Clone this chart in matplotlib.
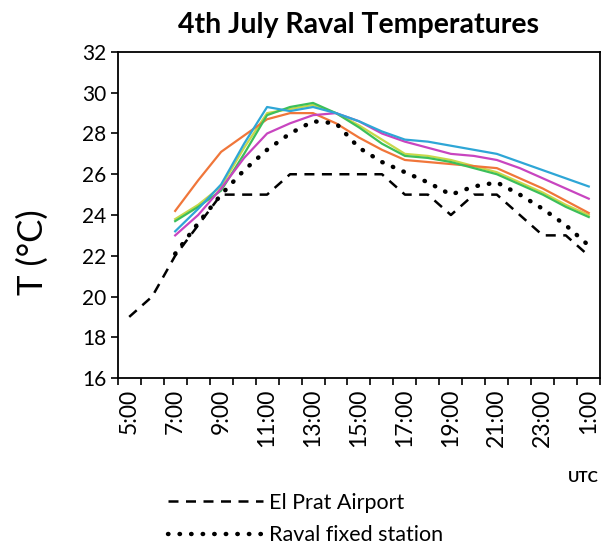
import numpy as np
import matplotlib
matplotlib.use("Agg")
import matplotlib.pyplot as plt
from matplotlib.lines import Line2D

plt.rcParams['font.family'] = ['Lato', 'DejaVu Sans']

# hourly categories, 5:00 on 4 July to 1:00 next day (UTC)
hours = ["5:00", "6:00", "7:00", "8:00", "9:00", "10:00", "11:00", "12:00", "13:00",
         "14:00", "15:00", "16:00", "17:00", "18:00", "19:00", "20:00", "21:00",
         "22:00", "23:00", "0:00", "1:00"]

el_prat = [19, 20, 22, 23.5, 25, 25, 25, 26, 26, 26, 26, 26, 25, 25, 24, 25, 25, 24, 23, 23, 22]
raval_fixed = [None, None, 22.1, 23.6, 25.0, 26.2, 27.2, 28.0, 28.6, 28.5, 27.3, 26.6,
               26.1, 25.6, 25.0, 25.4, 25.6, 25.0, 24.3, 23.5, 22.5]

# mobile transects
orange = [None, None, 24.2, 25.7, 27.1, 27.9, 28.7, 29.0, 29.0, 28.5, 27.8, 27.2,
          26.7, 26.6, 26.5, 26.4, 26.3, 25.8, 25.3, 24.7, 24.1]
lime = [None, None, 23.8, 24.5, 25.4, 27.3, 29.0, 29.2, 29.4, 29.0, 28.4, 27.7,
        27.0, 26.9, 26.7, 26.4, 26.1, 25.6, 25.1, 24.5, 24.0]
green = [None, None, 23.7, 24.4, 25.2, 27.0, 28.9, 29.3, 29.5, 29.0, 28.3, 27.5,
         26.9, 26.8, 26.6, 26.3, 26.0, 25.5, 25.0, 24.4, 23.9]
cyan = [None, None, 23.2, 24.3, 25.5, 27.5, 29.3, 29.1, 29.3, 29.0, 28.6, 28.1,
        27.7, 27.6, 27.4, 27.2, 27.0, 26.6, 26.2, 25.8, 25.4]
magenta = [None, None, 23.0, 24.0, 25.3, 26.8, 28.0, 28.5, 28.9, 29.0, 28.6, 28.0,
           27.6, 27.3, 27.0, 26.9, 26.7, 26.3, 25.8, 25.3, 24.8]

def arr(v):
    return np.array([np.nan if a is None else a for a in v], dtype=float)

x = np.arange(len(hours))

fig = plt.figure(figsize=(6.1, 5.45), dpi=100)
ax = fig.add_axes([0.193, 0.3064, 0.791, 0.5982])

ax.plot(x, arr(lime), color="#c8d84a", lw=1.6)
ax.plot(x, arr(orange), color="#f0763a", lw=1.6)
ax.plot(x, arr(green), color="#3cbf5a", lw=1.6)
ax.plot(x, arr(magenta), color="#c845c0", lw=1.6)
ax.plot(x, arr(cyan), color="#2ea6d6", lw=1.6)
ax.plot(x, arr(el_prat), color="black", lw=1.8, linestyle=(0, (4, 3)))
ax.plot(x, arr(raval_fixed), color="black", lw=3.2, linestyle=(0, (0.1, 2.5)),
        dash_capstyle="round")

ax.set_ylim(16, 32)
ax.set_yticks(np.arange(16, 33, 2))
ax.set_xlim(-0.5, len(hours) - 0.5)
ax.set_xticks(x[::2])
ax.set_xticklabels(hours[::2], rotation=90, fontsize=16.5)
ax.set_xticks(np.arange(-0.5, len(hours), 1), minor=True)
ax.tick_params(axis="x", which="major", length=0, pad=8)
ax.tick_params(axis="x", which="minor", length=5, width=1.2, direction="out")
ax.tick_params(axis="y", labelsize=15, length=5, width=1.2, direction="out", pad=3)
for s in ax.spines.values():
    s.set_linewidth(1.3)

ax.set_ylabel("T (°C)", fontsize=25)
ax.yaxis.set_label_coords(-0.142, 0.385)
ax.set_title("4th July Raval Temperatures", fontsize=20.5, fontweight="bold", pad=14)
fig.text(0.956, 0.115, "UTC", fontsize=11, fontweight="bold", ha="center")

handles = [Line2D([], [], color="black", lw=1.8, linestyle=(0, (4, 3))),
           Line2D([], [], color="black", lw=3.2, linestyle=(0, (0.1, 2.5)), dash_capstyle="round")]
fig.legend(handles, ["El Prat Airport", "Raval fixed station"], loc="upper left",
           bbox_to_anchor=(0.262, 0.112), frameon=False, fontsize=15.5,
           handlelength=4.4, handletextpad=0.25, labelspacing=0.6, borderaxespad=0)

fig.savefig("out.png", dpi=100, facecolor="white")
